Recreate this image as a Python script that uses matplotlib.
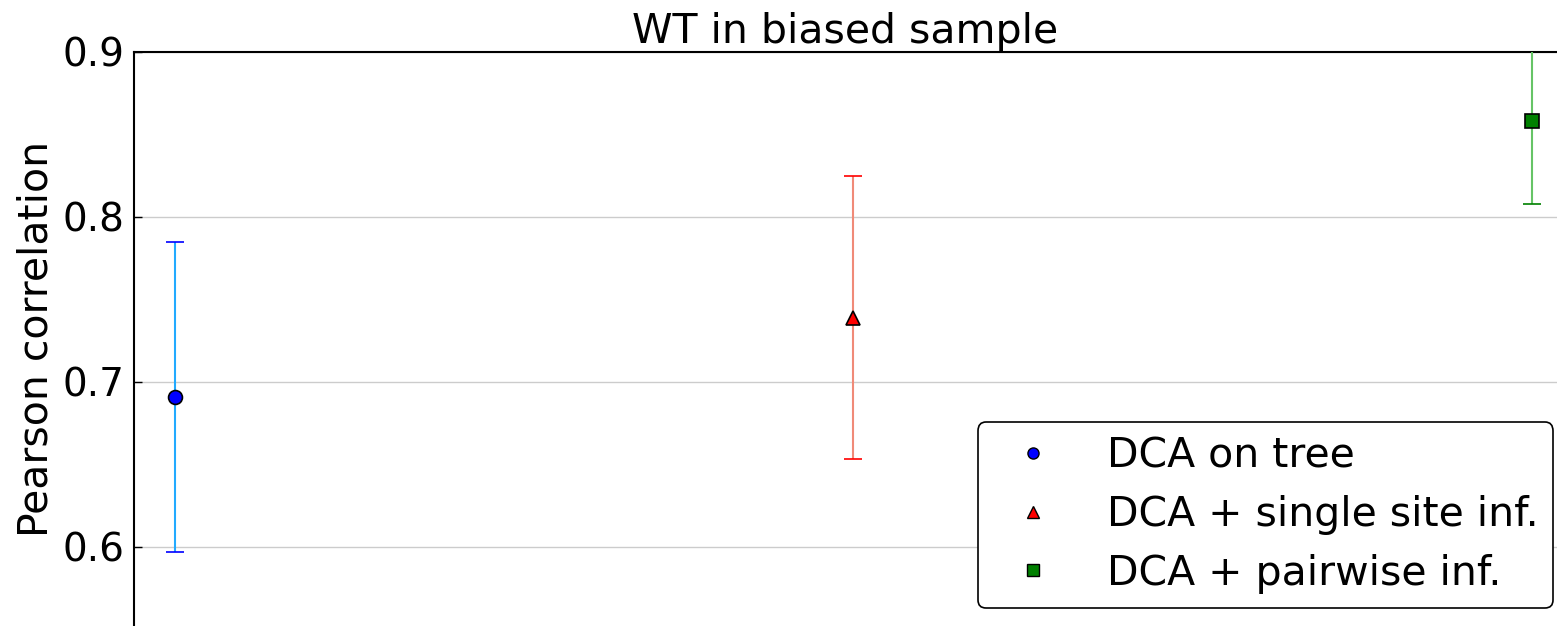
import numpy as np
import matplotlib
matplotlib.use('Agg')
import matplotlib.pyplot as plt
from matplotlib.lines import Line2D

# values
methods = ['DCA on tree', 'DCA + single site inf.', 'DCA + pairwise inf.']
means = [0.691, 0.739, 0.858]
errors = [0.094, 0.086, 0.050]
markers = ['o', '^', 's']
face_colors = ['blue', 'red', 'green']
line_colors = ['#22aaff', '#f08a78', '#66c466']

W, H = 1557, 626
fig = plt.figure(figsize=(W / 100, H / 100), dpi=100)
ax = fig.add_axes([134 / W, 0, 1 - 134 / W, (H - 52) / H])

for i in range(len(methods)):
    mk, caps, bars = ax.errorbar(i, means[i], yerr=errors[i], fmt=markers[i],
                                 color=face_colors[i], markeredgecolor='black',
                                 markeredgewidth=1.2, markersize=10,
                                 ecolor=line_colors[i], elinewidth=1.5,
                                 capsize=6.5, capthick=2, zorder=3)
    for c in caps:
        c.set_markeredgecolor(face_colors[i])
        c.set_color(face_colors[i])

ax.set_xlim(-0.0604, 2.037)
ax.set_ylim(0.552, 0.9)
ax.set_yticks([0.6, 0.7, 0.8, 0.9])
ax.set_xticks([])
ax.grid(axis='y', color='#cccccc', linewidth=1)
ax.set_axisbelow(True)
ax.spines['right'].set_visible(False)
ax.spines['bottom'].set_visible(False)
ax.spines['left'].set_linewidth(1.5)
ax.spines['top'].set_linewidth(1.5)
ax.tick_params(axis='y', labelsize=28, direction='in', length=6, width=1, pad=7)

ax.set_ylabel('Pearson correlation', fontsize=29.5, labelpad=4)
ax.set_title('WT in biased sample', fontsize=29.5, pad=6)

# legend with markers only
handles = [Line2D([], [], linestyle='none', marker=markers[i], markersize=8,
                  markerfacecolor=face_colors[i], markeredgecolor='black',
                  markeredgewidth=1) for i in range(len(methods))]
leg = ax.legend(handles, methods, loc='lower right', bbox_to_anchor=(1553 / W, 18 / H),
                bbox_transform=fig.transFigure, borderaxespad=0,
                fontsize=29.5, numpoints=1,
                handlelength=2.0, handletextpad=0.8, labelspacing=0.45,
                borderpad=0.35, framealpha=1, fancybox=True)
leg.get_frame().set_edgecolor('black')
leg.get_frame().set_linewidth(1.2)

fig.savefig('out.png', dpi=100)
